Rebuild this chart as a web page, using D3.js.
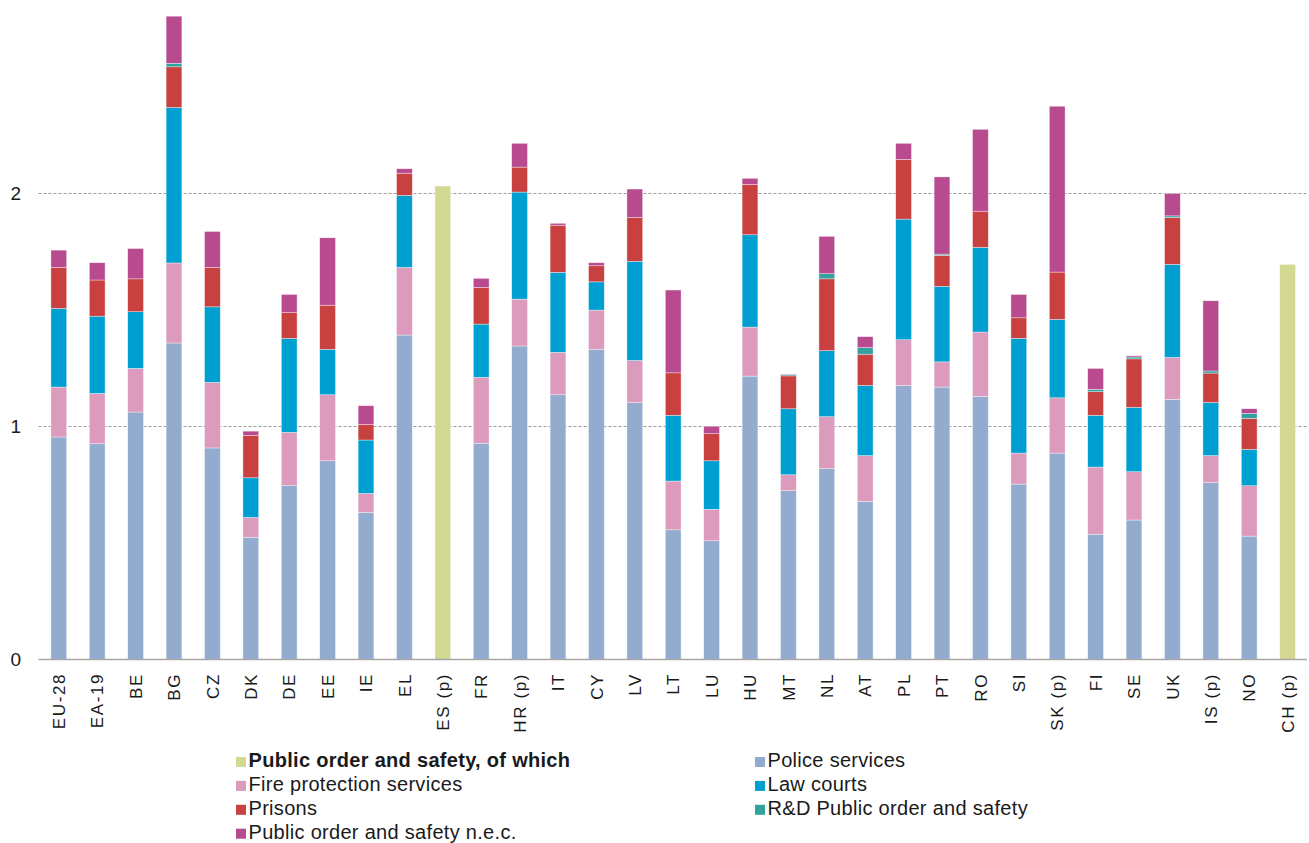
<!DOCTYPE html>
<html>
<head>
<meta charset="utf-8">
<script src="https://cdn.jsdelivr.net/npm/d3@7"></script>
<style>
  body { margin: 0; background: #fff; }
  text { font-family: "Liberation Sans", Arial, sans-serif; fill: #1a1a1a; }
</style>
</head>
<body>
<div id="chart"></div>
<script>
// categories (countries / aggregates)
var countries = ["EU-28","EA-19","BE","BG","CZ","DK","DE","EE","IE","EL","ES (p)","FR","HR (p)","IT","CY","LV","LT","LU","HU","MT","NL","AT","PL","PT","RO","SI","SK (p)","FI","SE","UK","IS (p)","NO","CH (p)"];

// total only (no breakdown available)
var totalOnly = [0,0,0,0,0,0,0,0,0,0,2.03,0,0,0,0,0,0,0,0,0,0,0,0,0,0,0,0,0,0,0,0,0,1.694];

// breakdown series
var police   = [0.954,0.925,1.061,1.357,0.907,0.524,0.745,0.852,0.631,1.391,0,0.927,1.344,1.135,1.330,1.101,0.556,0.509,1.215,0.724,0.818,0.678,1.175,1.168,1.128,0.752,0.885,0.537,0.598,1.115,0.758,0.529,0];
var fire     = [0.214,0.216,0.187,0.343,0.281,0.085,0.229,0.283,0.081,0.290,0,0.283,0.201,0.182,0.168,0.181,0.209,0.135,0.210,0.068,0.223,0.196,0.196,0.108,0.276,0.133,0.237,0.288,0.207,0.180,0.116,0.216,0];
var lawCourts= [0.337,0.331,0.243,0.667,0.324,0.170,0.403,0.195,0.229,0.309,0,0.228,0.459,0.343,0.121,0.425,0.282,0.208,0.396,0.283,0.283,0.301,0.517,0.324,0.363,0.492,0.336,0.222,0.276,0.399,0.228,0.156,0];
var prisons  = [0.176,0.155,0.141,0.174,0.169,0.182,0.110,0.189,0.067,0.095,0,0.157,0.107,0.202,0.069,0.188,0.182,0.116,0.216,0.141,0.308,0.134,0.256,0.133,0.155,0.088,0.203,0.101,0.208,0.201,0.126,0.133,0];
var rnd      = [0,0,0,0.015,0,0,0,0,0,0,0,0,0,0,0,0,0,0,0,0.005,0.022,0.028,0,0.005,0,0,0,0.010,0.008,0.007,0.009,0.021,0];
var nec      = [0.074,0.074,0.130,0.202,0.154,0.018,0.078,0.289,0.080,0.019,0,0.039,0.102,0.008,0.013,0.122,0.355,0.032,0.026,0.003,0.160,0.047,0.069,0.331,0.351,0.100,0.711,0.090,0.005,0.096,0.301,0.020,0];

var yTicks = [0, 1, 2];

var keys = ["police","fire","law","prisons","rnd","nec"];
var colors = {
  total: "#d3d993",
  police: "#93abcf",
  fire: "#dc9bbd",
  law: "#009fd1",
  prisons: "#c8403f",
  rnd: "#33a19d",
  nec: "#b84b8f"
};

var rows = countries.map(function(c, i) {
  return { country: c, total: totalOnly[i], police: police[i], fire: fire[i],
           law: lawCourts[i], prisons: prisons[i], rnd: rnd[i], nec: nec[i] };
});

var w = 1309, h = 843;
var left = 38.5, right = 1307;

var svg = d3.select("#chart").append("svg")
  .attr("width", w)
  .attr("height", h);

var x = d3.scaleBand()
  .domain(countries)
  .range([39.6, 1306.8])
  .paddingInner(0.59)
  .paddingOuter(0.295);

var y = d3.scaleLinear()
  .domain([0, 2])
  .range([659.5, 193]);

// gridlines
svg.append("g").selectAll("line")
  .data(yTicks.filter(function(d){ return d > 0; }))
  .enter().append("line")
  .attr("x1", left)
  .attr("x2", right)
  .attr("y1", function(d){ return Math.round(y(d)) + 0.5; })
  .attr("y2", function(d){ return Math.round(y(d)) + 0.5; })
  .attr("stroke", "#9a9a9a")
  .attr("stroke-width", 1)
  .attr("stroke-dasharray", "3,2");

// y labels
svg.append("g").selectAll("text")
  .data(yTicks)
  .enter().append("text")
  .attr("x", 21)
  .attr("y", function(d){ return y(d); })
  .attr("dy", "0.35em")
  .attr("text-anchor", "end")
  .style("font-size", "19px")
  .text(function(d){ return d; });

// total-only bars
svg.append("g").selectAll("rect")
  .data(rows.filter(function(d){ return d.total > 0; }))
  .enter().append("rect")
  .attr("x", function(d){ return x(d.country); })
  .attr("width", x.bandwidth())
  .attr("y", function(d){ return y(d.total); })
  .attr("height", function(d){ return y(0) - y(d.total); })
  .attr("fill", colors.total)
  .attr("stroke", "#fff")
  .attr("stroke-opacity", 0.6)
  .attr("stroke-width", 0.6);

// stacked bars
var stacked = d3.stack().keys(keys)(rows);

svg.append("g").selectAll("g")
  .data(stacked)
  .enter().append("g")
  .attr("fill", function(d){ return colors[d.key]; })
  .selectAll("rect")
  .data(function(d){ return d.filter(function(s){ return s[1] - s[0] > 0; }); })
  .enter().append("rect")
  .attr("x", function(d){ return x(d.data.country); })
  .attr("width", x.bandwidth())
  .attr("y", function(d){ return y(d[1]); })
  .attr("height", function(d){ return y(d[0]) - y(d[1]); })
  .attr("stroke", "#fff")
  .attr("stroke-opacity", 0.6)
  .attr("stroke-width", 0.6);

// x axis line
svg.append("line")
  .attr("x1", left)
  .attr("x2", right)
  .attr("y1", 659.5)
  .attr("y2", 659.5)
  .attr("stroke", "#a6a6a6")
  .attr("stroke-width", 1.5);

// category labels
svg.append("g").selectAll("text")
  .data(countries)
  .enter().append("text")
  .attr("transform", function(d){
    return "translate(" + (x(d) + x.bandwidth() / 2) + ",673) rotate(-90)";
  })
  .attr("dy", "0.36em")
  .attr("text-anchor", "end")
  .style("font-size", "17px")
  .style("letter-spacing", "1.6px")
  .text(function(d){ return d; });

// legend
var legendItems = [
  { key: "total", label: "Public order and safety, of which", col: 0, row: 0, bold: true },
  { key: "fire", label: "Fire protection services", col: 0, row: 1 },
  { key: "prisons", label: "Prisons", col: 0, row: 2 },
  { key: "nec", label: "Public order and safety n.e.c.", col: 0, row: 3 },
  { key: "police", label: "Police services", col: 1, row: 0 },
  { key: "law", label: "Law courts", col: 1, row: 1 },
  { key: "rnd", label: "R&D Public order and safety", col: 1, row: 2 }
];
var legendX = [236, 755];

var legend = svg.append("g").selectAll("g")
  .data(legendItems)
  .enter().append("g")
  .attr("transform", function(d){
    return "translate(" + legendX[d.col] + "," + (767 + d.row * 23.9) + ")";
  });

legend.append("rect")
  .attr("x", 0)
  .attr("y", -10)
  .attr("width", 10)
  .attr("height", 10)
  .attr("fill", function(d){ return colors[d.key]; });

legend.append("text")
  .attr("x", 12.5)
  .attr("y", 0)
  .style("font-size", "20px")
  .style("letter-spacing", "0.3px")
  .style("font-weight", function(d){ return d.bold ? "bold" : "normal"; })
  .text(function(d){ return d.label; });
</script>
</body>
</html>
